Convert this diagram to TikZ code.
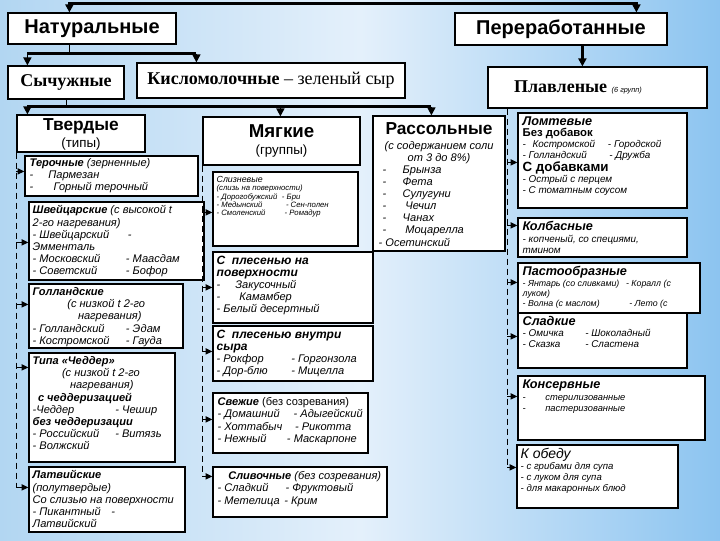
\documentclass[tikz,border=0pt]{standalone}
\usepackage{fontspec}
\setmainfont{Liberation Sans}
\newfontfamily\timesfont{Liberation Serif}
\usepackage{tikz}
\usetikzlibrary{arrows.meta, positioning, calc, fit}
\definecolor{bgleft}{RGB}{178,214,242}
\definecolor{bgmid}{RGB}{228,240,251}
\definecolor{bgright}{RGB}{140,196,240}
\newcommand{\twocol}[3][62pt]{\makebox[#1][l]{#2}#3}

\begin{document}
\begin{tikzpicture}[
    x=0.75pt, y=-0.75pt,
    box/.style={draw, line width=0.9pt, fill=white, inner sep=0pt},
    head/.style={font=\bfseries\fontsize{15}{16}\selectfont},
    shead/.style={font=\timesfont\fontsize{13.5}{15}\selectfont},
    txt/.style={anchor=north west, align=left, inner sep=0pt, font=\fontsize{8.3}{9.1}\selectfont\itshape},
    txtsm/.style={txt, font=\fontsize{7.4}{8.3}\selectfont\itshape},
    bus/.style={line width=2pt},
    stem/.style={line width=0.9pt},
    trunk/.style={line width=0.8pt, dash pattern=on 5pt off 2.5pt},
    arrow/.style={-{Triangle[length=5pt, width=4.5pt]}, line width=0.9pt},
    bigarrow/.style={-{Triangle[length=6pt, width=6pt]}, line width=1.2pt}
]
% Background
\shade[left color=bgleft, right color=bgright, middle color=bgmid] (0,0) rectangle (720,540);
\useasboundingbox (0,0) rectangle (720,540);

% Top level
\node[box, fit={(8,13) (176,44)}] (nat) {};
\node[head] (natt) at (nat.center) {Натуральные};
\node[box, fit={(455,13) (667,45)}] (per) {};
\node[head] (pert) at (per.center) {Переработанные};

% Natural cheeses
\node[box, fit={(8,66) (124,99)}] (sych) {};
\node[shead] (sycht) at (sych.center) {\textbf{Сычужные}};
\node[box, fit={(137,63) (405,98)}] (kis) {};
\node[shead] (kist) at (kis.center) {\textbf{Кисломолочные} – зеленый сыр};

% Processed cheeses
\node[box, fit={(488,67) (707,108)}] (plav) {};
\node[shead, anchor=west] (plavt) at ($(plav.west)+(22,0)$) {\textbf{Плавленые} {\normalfont\itshape\fontsize{5.5}{6}\selectfont (6 групп)}};

% Rennet cheese groups
\node[box, fit={(17,115) (145,152)}] (tverd) {};
\node[align=center, inner sep=0pt] (tverdt) at ($(tverd.center)+(0,1)$) {\textbf{\fontsize{13}{14}\selectfont Твердые}\\[1pt]\fontsize{10}{11}\selectfont (типы)};
\node[box, fit={(203,117) (360,165)}] (myag) {};
\node[align=center, inner sep=0pt, anchor=north] (myagt) at ($(myag.north)+(0,8)$) {\textbf{\fontsize{14}{15}\selectfont Мягкие}\\[1pt]\fontsize{10}{11}\selectfont (группы)};
\node[box, fit={(373,116) (505,251)}] (rass) {};
\node[align=center, inner sep=0pt, anchor=north, font=\fontsize{8.3}{9.1}\selectfont\itshape] (rasst) at ($(rass.north)+(0,7)$) {\textbf{\upshape\fontsize{13}{14}\selectfont Рассольные}\\[2pt](с содержанием соли\\от 3 до 8\%)};
\node[txt] (rassl) at ($(rass.north west)+(10,50)$) {\twocol[15pt]{-}Брынза\\
\twocol[15pt]{-}Фета\\
\twocol[15pt]{-}Сулугуни\\
\twocol[17pt]{-}Чечил\\
\twocol[15pt]{-}Чанах\\
\twocol[17pt]{-}Моцарелла\\
\hspace*{-3pt}- Осетинский};

% Hard cheeses
\node[box, fit={(25,156) (198,196)}] (teroch) {};
\node[txt] (terocht) at ($(teroch.north west)+(5,3)$) {\textbf{Терочные} (зерненные)\\
\twocol[14pt]{-}Пармезан\\
\twocol[18pt]{-}Горный терочный};
\node[box, fit={(29,202) (204,280)}] (shveic) {};
\node[txt] (shveict) at ($(shveic.north west)+(4,4)$) {\textbf{Швейцарские} (с высокой t\\
2-го нагревания)\\
- Швейцарский\hspace{14pt}-\\
Эмменталь\\
\twocol[70pt]{- Московский}- Маасдам\\
\twocol[70pt]{- Советский}- Бофор};
\node[box, fit={(29,284) (183,348)}] (goll) {};
\node[txt] (gollt) at ($(goll.north west)+(4,4)$) {\textbf{Голландские}\\
\hspace*{26pt}(с низкой t 2-го\\
\hspace*{34pt}нагревания)\\
\twocol[70pt]{- Голландский}- Эдам\\
\twocol[70pt]{- Костромской}- Гауда};
\node[box, fit={(29,353) (175,462)}] (chedd) {};
\node[txt] (ceddt) at ($(chedd.north west)+(4,4)$) {\textbf{Типа «Чеддер»}\\
\hspace*{22pt}(с низкой t 2-го\\
\hspace*{28pt}нагревания)\\
\hspace*{4pt}\textbf{с чеддеризацией}\\
\twocol[62pt]{-Чеддер}- Чешир\\
\textbf{без чеддеризации}\\
\twocol[62pt]{- Российский}- Витязь\\
- Волжский};
\node[box, fit={(29,467) (185,532)}] (latv) {};
\node[txt] (latvt) at ($(latv.north west)+(4,4)$) {\textbf{Латвийские}\\
(полутвердые)\\
Со слизью на поверхности\\
- Пикантный\hspace{8pt}-\\
Латвийский};

% Soft cheeses
\node[box, fit={(213,172) (358,246)}] (sliz) {};
\node[txt, font=\fontsize{5.8}{6.1}\selectfont\itshape] (slizt) at ($(sliz.north west)+(4,5)$) {\fontsize{6.6}{7}\selectfont Слизневые\\
(слизь на поверхности)\\
\twocol[49pt]{- Дорогобужский}- Бри\\
\twocol[52pt]{- Медынский}- Сен-полен\\
\twocol[51pt]{- Смоленский}- Ромадур};
\node[box, fit={(213,252) (373,323)}] (plpov) {};
\node[txt] (plpovt) at ($(plpov.north west)+(4,4)$) {\textbf{\fontsize{9}{10}\selectfont С\hspace{5pt}плесенью на}\\
\textbf{\fontsize{9}{10}\selectfont поверхности}\\
\twocol[14pt]{-}Закусочный\\
\twocol[17pt]{-}Камамбер\\
- Белый десертный};
\node[box, fit={(213,326) (373,381)}] (plvn) {};
\node[txt] (plvnt) at ($(plvn.north west)+(4,4)$) {\textbf{\fontsize{9}{10}\selectfont С\hspace{5pt}плесенью внутри}\\
\textbf{\fontsize{9}{10}\selectfont сыра}\\
\twocol[56pt]{- Рокфор}- Горгонзола\\
\twocol[56pt]{- Дор-блю}- Мицелла};
\node[box, fit={(213,393) (368,453)}] (svezh) {};
\node[txt] (svezht) at ($(svezh.north west)+(5,5)$) {\textbf{Свежие} {\upshape (без созревания)}\\
\twocol[57pt]{- Домашний}- Адыгейский\\
\twocol[58pt]{- Хоттабыч}- Рикотта\\
\twocol[52pt]{- Нежный}- Маскарпоне};
\node[box, fit={(213,467) (387,517)}] (sliv) {};
\node[txt] (slivt) at ($(sliv.north west)+(5,5)$) {\hspace*{8pt}\textbf{Сливочные} (без созревания)\\
\twocol[51pt]{- Сладкий}- Фруктовый\\
\twocol[50pt]{- Метелица}- Крим};

% Processed cheese groups
\node[box, fit={(518,113) (687,208)}] (lomt) {};
\node[txtsm] (lomtt) at ($(lomt.north west)+(5,4)$) {\textbf{\fontsize{9.5}{10}\selectfont Ломтевые}\\
\textbf{\upshape\fontsize{8.5}{9}\selectfont Без добавок}\\
\twocol[64pt]{-\hspace{5pt}Костромской}- Городской\\
\twocol[65pt]{- Голландский}- Дружба\\
\textbf{\upshape\fontsize{10}{10}\selectfont С добавками}\\
- Острый с перцем\\
- С томатным соусом};
\node[box, fit={(518,218) (687,257)}] (kolb) {};
\node[txtsm] (kolbt) at ($(kolb.north west)+(5,4)$) {\textbf{\fontsize{9.5}{10}\selectfont Колбасные}\\
- копченый, со специями,\\
тмином};
\node[box, fit={(518,263) (700,313)}] (past) {};
\node[txtsm, font=\fontsize{6.6}{7.7}\selectfont\itshape] (pastt) at ($(past.north west)+(5,4)$) {\textbf{\fontsize{9.5}{10}\selectfont Пастообразные}\\
- Янтарь (со сливками)\hspace{5pt}- Коралл (с\\
луком)\\
\twocol[80pt]{- Волна (с маслом)}- Лето (с};
\node[box, fit={(518,313) (687,368)}] (slad) {};
\node[txtsm] (sladt) at ($(slad.north west)+(5,4)$) {\textbf{\fontsize{9.5}{10}\selectfont Сладкие}\\
\twocol[47pt]{- Омичка}- Шоколадный\\
\twocol[47pt]{- Сказка}- Сластена};
\node[box, fit={(518,376) (705,440)}] (kons) {};
\node[txtsm, font=\fontsize{7}{8.8}\selectfont\itshape] (konst) at ($(kons.north west)+(5,4)$) {\textbf{\fontsize{9.5}{10}\selectfont Консервные}\\
\twocol[17pt]{-}стерилизованные\\
\twocol[17pt]{-}пастеризованные};
\node[box, fit={(517,445) (678,508)}] (obed) {};
\node[txtsm, font=\fontsize{7.2}{8.2}\selectfont\itshape] (obedt) at ($(obed.north west)+(4,4)$) {\fontsize{10.5}{11}\selectfont К обеду\\
- с грибами для супа\\
- с луком для супа\\
- для макаронных блюд};

% Connectors: top level
\coordinate (natin) at ($(nat.north west)+(62,0)$);
\coordinate (perin) at ($(per.north west)+(182,0)$);
\draw[bus, {Triangle[length=6pt, width=6pt]}-{Triangle[length=6pt, width=6pt]}] (natin) -- ++(0,-9) -| (perin);

\coordinate (natout) at ($(nat.south west)+(62,0)$);
\coordinate (nj) at ($(natout)+(0,9)$);
\coordinate (sychin) at ($(sych.north west)+(20,0)$);
\coordinate (kisin) at ($(kis.north west)+(60,0)$);
\draw[stem] (natout) -- (nj);
\draw[bus] (sychin |- nj) -- (kisin |- nj);
\draw[bigarrow] (sychin |- nj) -- (sychin);
\draw[bigarrow] (kisin |- nj) -- (kisin);

\coordinate (plavin) at ($(plav.north west)+(95,0)$);
\draw[bus, -{Triangle[length=6pt, width=6pt]}] (plavin |- per.south) -- (plavin);

\coordinate (sychout) at ($(sych.south west)+(59,0)$);
\coordinate (sj) at ($(sychout)+(0,7)$);
\coordinate (tverdin) at ($(tverd.north west)+(11,0)$);
\coordinate (myagin) at ($(myag.north west)+(78,0)$);
\coordinate (rassin) at ($(rass.north west)+(59,0)$);
\draw[stem] (sychout) -- (sj);
\draw[bus] (tverdin |- sj) -- (rassin |- sj);
\foreach \tgt in {tverdin, myagin, rassin}
  \draw[bigarrow] (\tgt |- sj) -- (\tgt);

% Dashed trunks
\draw[trunk] (tverd.south west) -- ($(tverd.south west |- latv.north west)+(0,21)$);
\foreach \bx/\dy in {teroch/16, shveic/41, goll/21, chedd/15, latv/21}
  \draw[arrow] ($(tverd.south west |- \bx.north west)+(0,\dy)$) -- ($(\bx.north west)+(0,\dy)$);

\draw[trunk] (myag.south west) -- ($(myag.south west |- sliv.north west)+(0,10)$);
\foreach \bx/\dy in {sliz/41, plpov/36, plvn/26, svezh/27, sliv/10}
  \draw[arrow] ($(myag.south west |- \bx.north west)+(0,\dy)$) -- ($(\bx.north west)+(0,\dy)$);

\coordinate (ptrunk) at ($(plav.south west)+(20,0)$);
\draw[trunk] (ptrunk) -- ($(ptrunk |- obed.north west)+(0,23)$);
\foreach \bx/\dy in {lomt/50, kolb/8, past/20, slad/24, kons/21, obed/23}
  \draw[arrow] ($(ptrunk |- \bx.north west)+(0,\dy)$) -- ($(\bx.north west)+(0,\dy)$);
\end{tikzpicture}
\end{document}
